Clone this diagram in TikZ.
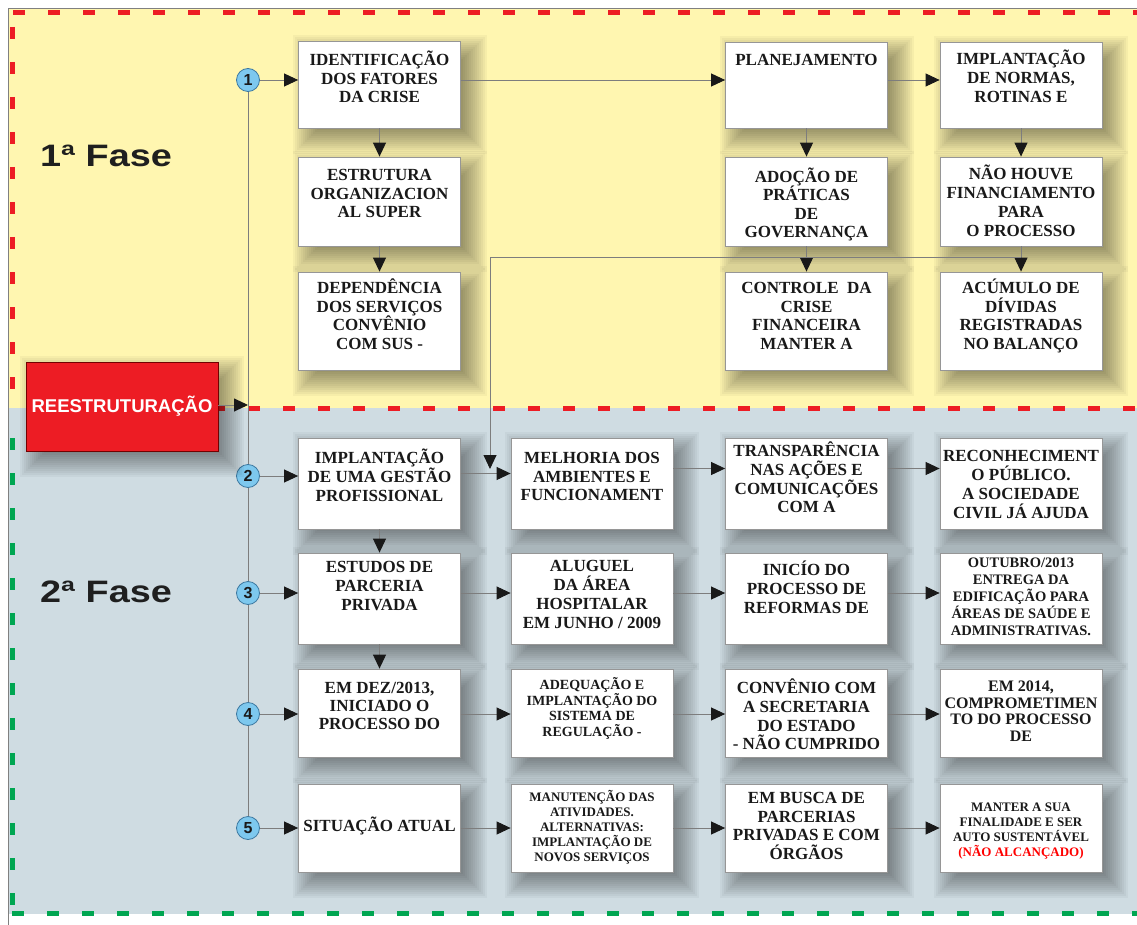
\documentclass[tikz,border=0pt]{standalone}
\usepackage{fontspec}
\setmainfont{Liberation Serif}
\setsansfont{Liberation Sans}
\usepackage{graphicx}
\usetikzlibrary{arrows.meta}
\definecolor{ybg}{RGB}{255,246,176}
\definecolor{bbg}{RGB}{207,220,226}
\definecolor{rdash}{RGB}{237,28,36}
\definecolor{gdash}{RGB}{0,166,81}
\definecolor{cfill}{RGB}{125,200,238}
\definecolor{cborder}{RGB}{60,120,160}
\definecolor{lgray}{RGB}{125,125,125}
\definecolor{boxgray}{RGB}{150,150,150}
\definecolor{redbox}{RGB}{237,28,36}
\definecolor{txt}{RGB}{25,25,25}
\newcommand\fs[2]{\fontsize{#1}{#2}\selectfont}
\tikzset{
  boxst/.style={draw=boxgray, line width=0.8pt, fill=white, inner sep=0pt,
    text=txt, font=\bfseries},
  shadowfill/.style={fill=black, opacity=0.034},
  arr/.style={draw=lgray, line width=0.9pt,
    -{Triangle[length=14pt,width=13pt,color=black!90,fill=black!90]}},
  numc/.style={circle, draw=cborder, fill=cfill, line width=0.8pt,
    minimum size=23pt, inner sep=0pt, text=black!90,
    font=\sffamily\bfseries\fs{16}{16}},
  fase/.style={anchor=base west, inner sep=0pt, text=black!88,
    font=\sffamily\bfseries\fs{31}{31}},
  dashline/.style={line width=5pt, dash pattern=on 12pt off 23pt}
}
% soft shadow: left top right bottom
\newcommand\softshadow[4]{%
  \foreach \i in {0,...,13}{%
    \fill[shadowfill] (#1-6+\i*2, #2-6+\i*2) rectangle (#3+26-\i*2, #4+26-\i*2);}%
}
\newcommand\bx[7]{%
  \pgfmathsetmacro\bxcy{(#3+#4)/2}%
  \pgfmathsetmacro\bxh{#4-#3}%
  \softshadow{#2-81}{#3}{#2+81}{#4}%
  \node[boxst] (#1) at (#2,\bxcy) {\parbox[c][\bxh pt][t]{162pt}{\centering#6\lineskiplimit=-100pt\relax\rule{0pt}{#5pt}#7}};%
}
\begin{document}
\begin{tikzpicture}[x=1pt,y=-1pt]
\useasboundingbox (0,0) rectangle (1137,925);
\fill[white] (0,0) rectangle (1137,925);
\fill[ybg] (8,8) rectangle (1137,408);
\fill[bbg] (8,408) rectangle (1137,914);
\draw[gray, line width=0.8pt] (8,925) -- (8,8) -- (1137,8);
% dashed borders
\draw[rdash, dashline] (13,12.5) -- (1137,12.5);
\draw[rdash, dashline] (12,27) -- (12,400);
\draw[rdash, dashline] (38,408) -- (1137,408);
\draw[gdash, dashline] (12,438) -- (12,905);
\draw[gdash, dashline] (12,913) -- (1137,913);
% phase labels
\node[fase] (p1) at (40,167) {\scalebox{1.22}[1]{1ª Fase}};
\node[fase] (p2) at (40,602) {\scalebox{1.22}[1]{2ª Fase}};
% spine
\coordinate (vtop) at (248,80);
\coordinate (vbot) at (248,828);
\coordinate (vr) at (248,405);
\draw[lgray, line width=0.9pt] (vtop) -- (vbot);
\node[numc] (k1) at (248,80) {1};
\node[numc] (k2) at (248,476) {2};
\node[numc] (k3) at (248,593) {3};
\node[numc] (k4) at (248,714) {4};
\node[numc] (k5) at (248,828) {5};
% red box
\softshadow{26}{362}{218}{451}
\node[draw=red!45!black, line width=0.8pt, fill=redbox, minimum width=192pt, minimum height=89pt,
  inner sep=0pt, text=white, font=\sffamily\bfseries\fs{18.5}{20}]
  (re) at (122,406.5) {REESTRUTURAÇÃO};
% phase 1 boxes
\bx{a1}{379.5}{41}{128}{24.6}{\fs{17}{18.5}}{IDENTIFICAÇÃO\\DOS FATORES\\DA CRISE}
\bx{a2}{379.5}{157}{246}{23.6}{\fs{17}{18.5}}{ESTRUTURA\\ORGANIZACION\\AL SUPER}
\bx{a3}{379.5}{272}{370}{21.6}{\fs{17}{18.5}}{DEPENDÊNCIA\\DOS SERVIÇOS\\CONVÊNIO\\COM SUS -}
\bx{b1}{806.5}{42}{128}{23.6}{\fs{17}{18.5}}{PLANEJAMENTO}
\bx{b2}{806.5}{157}{246}{25.6}{\fs{17}{18.4}}{ADOÇÃO DE\\PRÁTICAS\\DE\\GOVERNANÇA}
\bx{b3}{806.5}{272}{370}{21.6}{\fs{17}{18.5}}{CONTROLE\ \ DA\\CRISE\\FINANCEIRA\\MANTER A}
\bx{d1}{1021}{42}{128}{22.6}{\fs{17}{19}}{IMPLANTAÇÃO\\DE NORMAS,\\ROTINAS E}
\bx{d2}{1021}{157}{246}{22.6}{\fs{17}{19}}{NÃO HOUVE\\FINANCIAMENTO\\PARA\\O PROCESSO}
\bx{d3}{1021}{272}{370}{21.6}{\fs{17}{18.5}}{ACÚMULO DE\\DÍVIDAS\\REGISTRADAS\\NO BALANÇO}
% phase 2 boxes
\bx{e1}{379.5}{438}{529}{25.6}{\fs{17}{19}}{IMPLANTAÇÃO\\DE UMA GESTÃO\\PROFISSIONAL}
\bx{e2}{592}{438}{529}{25.6}{\fs{17}{18.5}}{MELHORIA DOS\\AMBIENTES E\\FUNCIONAMENT}
\bx{e3}{806.5}{438}{529}{18.6}{\fs{17}{18.7}}{TRANSPARÊNCIA\\NAS AÇÕES E\\COMUNICAÇÕES\\COM A}
\bx{e4}{1021}{438}{529}{23.6}{\fs{17}{19}}{RECONHECIMENT\\O PÚBLICO.\\A SOCIEDADE\\CIVIL JÁ AJUDA}
\bx{f1}{379.5}{553}{644}{19.6}{\fs{17}{19}}{ESTUDOS DE\\PARCERIA\\PRIVADA}
\bx{f2}{592}{553}{644}{18.6}{\fs{17}{19}}{ALUGUEL\\DA ÁREA\\HOSPITALAR\\EM JUNHO / 2009}
\bx{f3}{806.5}{553}{644}{22.6}{\fs{17}{19}}{INICÍO DO\\PROCESSO DE\\REFORMAS DE}
\bx{f4}{1021}{553}{644}{14.8}{\fs{14.5}{17}}{OUTUBRO/2013\\ENTREGA DA\\EDIFICAÇÃO PARA\\ÁREAS DE SAÚDE E\\ADMINISTRATIVAS.}
\bx{g1}{379.5}{669}{757}{24.6}{\fs{17}{18}}{EM DEZ/2013,\\INICIADO O\\PROCESSO DO}
\bx{g2}{592}{669}{757}{20.6}{\fs{14}{15.5}}{ADEQUAÇÃO E\\IMPLANTAÇÃO DO\\SISTEMA DE\\REGULAÇÃO -}
\bx{g3}{806.5}{669}{757}{24.6}{\fs{17}{18.7}}{CONVÊNIO COM\\A SECRETARIA\\DO ESTADO\\- NÃO CUMPRIDO}
\bx{g4}{1021}{669}{757}{22.3}{\fs{16}{16.7}}{EM 2014,\\COMPROMETIMEN\\TO DO PROCESSO\\DE}
\bx{h1}{379.5}{784}{872}{47.6}{\fs{17}{18}}{SITUAÇÃO ATUAL}
\bx{h2}{592}{784}{872}{17.3}{\fs{13}{15}}{MANUTENÇÃO DAS\\ATIVIDADES.\\ALTERNATIVAS:\\IMPLANTAÇÃO DE\\NOVOS SERVIÇOS}
\bx{h3}{806.5}{784}{872}{19.6}{\fs{17}{18.5}}{EM BUSCA DE\\PARCERIAS\\PRIVADAS E COM\\ÓRGÃOS}
\bx{h4}{1021}{784}{872}{27.3}{\fs{13}{15}}{MANTER A SUA\\FINALIDADE E SER\\AUTO SUSTENTÁVEL\\\textcolor{red}{(NÃO ALCANÇADO)}}
% connectors
\draw[arr] (re.east |- vr) -- (vr);
\draw[arr] (k1) -- (k1 -| a1.west);
\draw[arr] (a1.east |- k1) -- (b1.west |- k1);
\draw[arr] (b1.east |- k1) -- (d1.west |- k1);
\draw[arr] (a1.south) -- (a2.north);
\draw[arr] (a2.south) -- (a3.north);
\draw[arr] (b1.south) -- (b2.north);
\draw[arr] (b2.south) -- (b3.north);
\draw[arr] (d1.south) -- (d2.north);
\draw[arr] (d2.south) -- (d3.north);
\coordinate (ja) at (1021,257);
\coordinate (jb) at (490,257);
\coordinate (jc) at (490,469);
\draw[arr] (ja) -- (jb) -- (jc);
\draw[arr] (k2) -- (k2 -| e1.west);
\draw[arr] ([yshift=10pt]e1.east) -- ([yshift=10pt]e2.west);
\draw[arr] ([yshift=15pt]e2.east) -- ([yshift=15pt]e3.west);
\draw[arr] ([yshift=15pt]e3.east) -- ([yshift=15pt]e4.west);
\draw[arr] (e1.south) -- (f1.north);
\draw[arr] (f1.south) -- (g1.north);
\draw[arr] (k3) -- (k3 -| f1.west);
\draw[arr] (f1.east |- k3) -- (f2.west |- k3);
\draw[arr] (f2.east |- k3) -- (f3.west |- k3);
\draw[arr] (f3.east |- k3) -- (f4.west |- k3);
\draw[arr] (k4) -- (k4 -| g1.west);
\draw[arr] (g1.east |- k4) -- (g2.west |- k4);
\draw[arr] (g2.east |- k4) -- (g3.west |- k4);
\draw[arr] (g3.east |- k4) -- (g4.west |- k4);
\draw[arr] (k5) -- (k5 -| h1.west);
\draw[arr] (h1.east |- k5) -- (h2.west |- k5);
\draw[arr] (h2.east |- k5) -- (h3.west |- k5);
\draw[arr] (h3.east |- k5) -- (h4.west |- k5);
\end{tikzpicture}
\end{document}
